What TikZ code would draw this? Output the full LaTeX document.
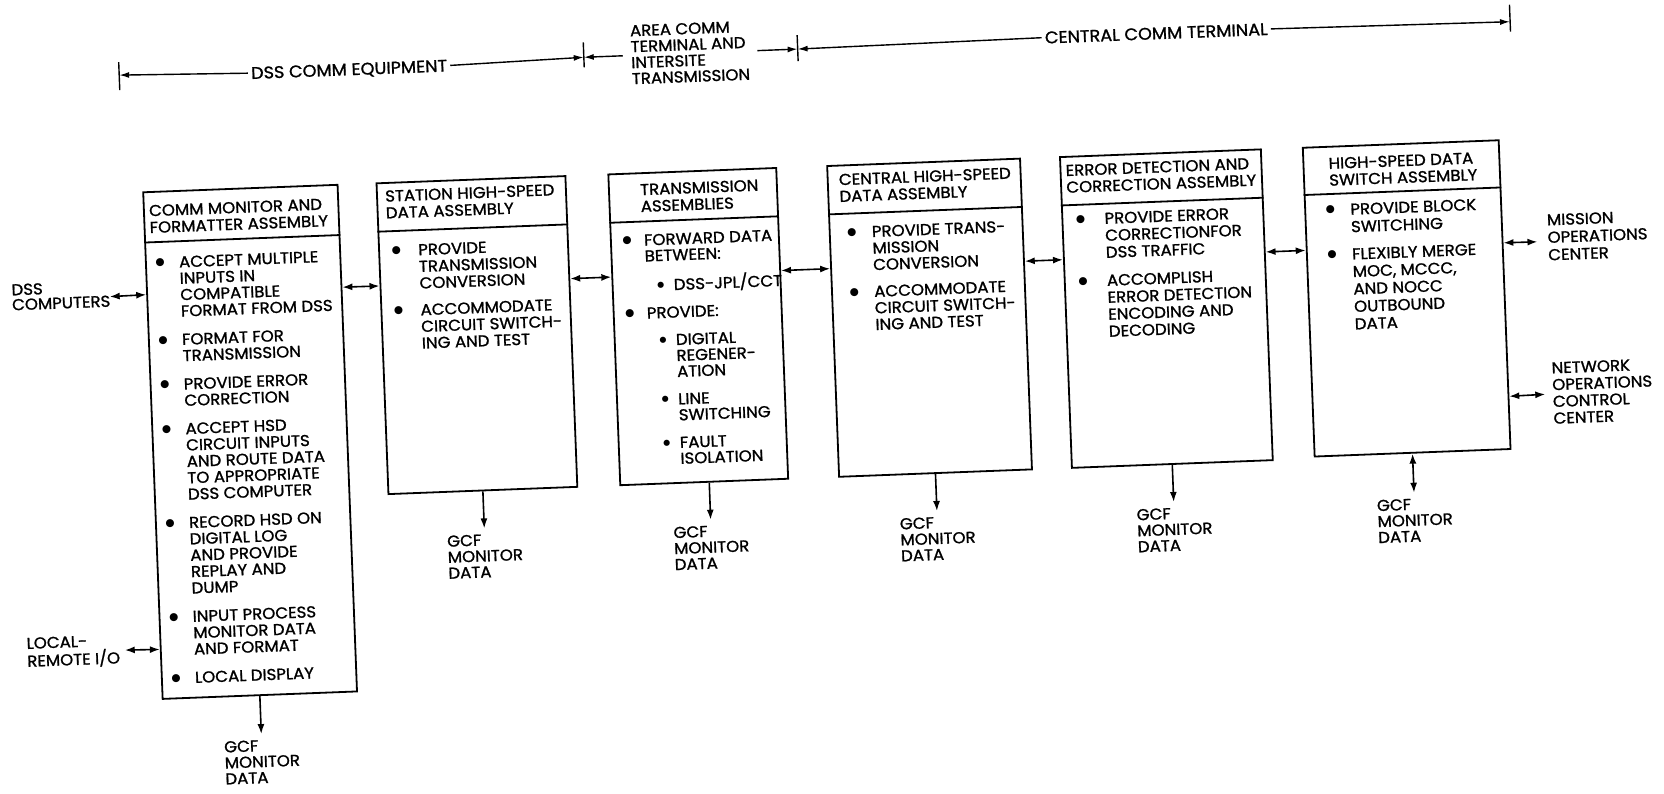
\documentclass[tikz,border=0pt]{standalone}
\usepackage{fontspec}
\setmainfont{Poppins}[RawFeature={embolden=1.2}, FakeStretch=1.05]
\newfontfamily\symf{DejaVu Sans}
\usetikzlibrary{arrows.meta,calc}

% font with a given line pitch; struts make every row exactly one pitch
\newcommand\fs[1]{\fontsize{15.8}{#1}\selectfont
  \setbox\strutbox\hbox{\vrule height .8\baselineskip depth .2\baselineskip width 0pt}}
\newcommand\bul{\raisebox{\dimexpr5.5pt-(\height-\depth)/2\relax}{\symf\fontsize{10.5}{10.5}\selectfont ●}}
\newcommand\sbul{\raisebox{\dimexpr5.5pt-(\height-\depth)/2\relax}{\symf\fontsize{8}{8}\selectfont ●}}
% multi-line left-aligned block, baseline = first line
\newcommand\blk[2]{{\fs{#1}\begin{tabular}[t]{@{}l@{}}#2\end{tabular}}}
% one bullet item: bullet centre, text indent, bullet, lines
\newcommand\itm[4]{\hbox{\makebox[#2][l]{\hspace*{#1}\makebox[0pt]{#3}}\begin{tabular}[t]{@{}l@{}}#4\end{tabular}}}
% list of items: pitch, extra gap between items, items
\newcommand\itemlist[3]{{\fs{#1}\vtop{\lineskiplimit=\maxdimen\lineskip=#2\relax #3}}}

\begin{document}
\begin{tikzpicture}[x=1pt,y=-1pt,
  box/.style={draw, line width=1.8pt, inner sep=0pt},
  sepline/.style={line width=1.8pt},
  link/.style={line width=1.6pt, {Latex[length=10pt,width=7pt]}-{Latex[length=10pt,width=7pt]}},
  outarrow/.style={line width=1.6pt, -{Latex[length=10pt,width=7pt]}},
  dimarrow/.style={line width=1.4pt, -{Latex[length=10pt,width=6pt]}},
  tickline/.style={line width=1.4pt},
  lbl/.style={inner sep=0pt, anchor=base west},
  gcf/.style={anchor=north, inner xsep=0pt, inner ysep=4pt},
  dimtxt/.style={inner xsep=3pt, inner ysep=0pt, text depth=0pt, font=\fontsize{16.8}{16}\selectfont},
  dimblock/.style={inner xsep=8pt, inner ysep=0pt, anchor=west}
]
\fill[white] (0,0) rectangle (1664,793);
\useasboundingbox (0,0) rectangle (1664,793);
\begin{scope}[rotate around={2.2:(832,396)}, transform shape]
% ---------- dimension line ----------
\coordinate (t1) at (132,48);
\coordinate (t2) at (597,48);
\coordinate (t3) at (811,48);
\coordinate (t4) at (1524,48);
\draw[tickline] (132,35) -- (132,63);
\draw[tickline] (597,33) -- (597,58);
\draw[tickline] (811,34) -- (811,60);
\draw[tickline] (1524,31) -- (1524,58);
\node[dimtxt] (d1) at (362,51) {DSS COMM EQUIPMENT};
\node[dimblock] (d2) at (636,48) {\blk{16pt}{AREA COMM\\TERMINAL AND\\INTERSITE\\TRANSMISSION}};
\node[dimtxt] (d3) at (1170,46) {CENTRAL COMM TERMINAL};
\draw[dimarrow] (d1.west) -- (t1);
\draw[dimarrow] (d1.east) -- (t2);
\draw[dimarrow] (d2.west) -- (t2);
\draw[dimarrow] (d2.east) -- (t3);
\draw[dimarrow] (d3.west) -- (t3);
\draw[dimarrow] (d3.east) -- (t4);
% ---------- boxes ----------
\node[box, minimum width=194.5pt, minimum height=507pt] (b1) at (248.75,419.5) {};
\node[box, minimum width=189pt, minimum height=311pt] (b2) at (479.5,321.5) {};
\node[box, minimum width=168pt, minimum height=311pt] (b3) at (701,321.5) {};
\node[box, minimum width=193pt, minimum height=311pt] (b4) at (932.5,321.5) {};
\node[box, minimum width=201pt, minimum height=311pt] (b5) at (1169.5,321.5) {};
\node[box, minimum width=196pt, minimum height=309pt] (b6) at (1410,320.5) {};
\draw[sepline] ($(b1.north west)!0.1006!(b1.south west)$) -- ($(b1.north east)!0.1006!(b1.south east)$);
\foreach \b in {b2,b3,b4,b5}
  \draw[sepline] ($(\b.north west)!0.1576!(\b.south west)$) -- ($(\b.north east)!0.1576!(\b.south east)$);
\draw[sepline] ($(b6.north west)!0.155!(b6.south west)$) -- ($(b6.north east)!0.155!(b6.south east)$);
% ---------- headers ----------
\node[lbl] (h1) at (156.5,190.2) {\blk{16.8pt}{COMM MONITOR AND\\FORMATTER ASSEMBLY}};
\node[lbl] (h2) at (393,184.7) {\blk{16.8pt}{STATION HIGH-SPEED\\DATA ASSEMBLY}};
\node[lbl] (h3) at (648,188) {\blk{16.8pt}{TRANSMISSION\\ASSEMBLIES}};
\node[lbl] (h4) at (847,185.6) {\blk{16.8pt}{CENTRAL HIGH-SPEED\\DATA ASSEMBLY}};
\node[lbl] (h5) at (1074,185.2) {\blk{16.8pt}{ERROR DETECTION AND\\CORRECTION ASSEMBLY}};
\node[lbl] (h6) at (1337,188.2) {\blk{16.8pt}{HIGH-SPEED DATA\\SWITCH ASSEMBLY}};
% ---------- bodies ----------
\node[lbl] (c1) at (151.5,242.5) {\itemlist{16.4pt}{11.9pt}{%
\itm{14pt}{33pt}{\bul}{ACCEPT MULTIPLE\\INPUTS IN\\COMPATIBLE\\FORMAT FROM DSS}
\itm{14pt}{33pt}{\bul}{FORMAT FOR\\TRANSMISSION}
\itm{14pt}{33pt}{\bul}{PROVIDE ERROR\\CORRECTION}
\itm{14pt}{33pt}{\bul}{ACCEPT HSD\\CIRCUIT INPUTS\\AND ROUTE DATA\\TO APPROPRIATE\\DSS COMPUTER}
\itm{14pt}{33pt}{\bul}{RECORD HSD ON\\DIGITAL LOG\\AND PROVIDE\\REPLAY AND\\DUMP}
\itm{14pt}{33pt}{\bul}{INPUT PROCESS\\MONITOR DATA\\AND FORMAT}
\itm{14pt}{33pt}{\bul}{LOCAL DISPLAY}}};
\node[lbl] (c2) at (385,239.5) {\itemlist{16.7pt}{10pt}{%
\itm{17pt}{39pt}{\bul}{PROVIDE\\TRANSMISSION\\CONVERSION}
\itm{17pt}{39pt}{\bul}{ACCOMMODATE\\CIRCUIT SWITCH-\\ING AND TEST}}};
\node[lbl] (c3) at (617,238.5) {\itemlist{16pt}{11.5pt}{%
\itm{16pt}{33pt}{\bul}{FORWARD DATA\\BETWEEN:}
\itm{48pt}{61pt}{\sbul}{DSS-JPL/CCT}
\itm{16pt}{33pt}{\bul}{PROVIDE:}
\itm{48pt}{61pt}{\sbul}{DIGITAL\\REGENER-\\ATION}
\itm{48pt}{61pt}{\sbul}{LINE\\SWITCHING}
\itm{48pt}{61pt}{\sbul}{FAULT\\ISOLATION}}};
\node[lbl] (c4) at (836,238.7) {\itemlist{16.6pt}{10.1pt}{%
\itm{22pt}{42pt}{\bul}{PROVIDE TRANS-\\MISSION\\CONVERSION}
\itm{22pt}{42pt}{\bul}{ACCOMMODATE\\CIRCUIT SWITCH-\\ING AND TEST}}};
\node[lbl] (c5) at (1069,234.5) {\itemlist{17pt}{11pt}{%
\itm{18pt}{42pt}{\bul}{PROVIDE ERROR\\CORRECTIONFOR\\DSS TRAFFIC}
\itm{18pt}{42pt}{\bul}{ACCOMPLISH\\ERROR DETECTION\\ENCODING AND\\DECODING}}};
\node[lbl] (c6) at (1312,234.8) {\itemlist{17.5pt}{9.8pt}{%
\itm{25pt}{45pt}{\bul}{PROVIDE BLOCK\\SWITCHING}
\itm{25pt}{45pt}{\bul}{FLEXIBLY MERGE\\MOC, MCCC,\\AND NOCC\\OUTBOUND\\DATA}}};
% ---------- links between boxes ----------
\draw[link] ($(b1.north east)!0.2032!(b1.south east)$) -- ($(b2.north west)!0.3312!(b2.south west)$);
\draw[link] ($(b2.north east)!0.3312!(b2.south east)$) -- ($(b3.north west)!0.3312!(b3.south west)$);
\draw[link] ($(b3.north east)!0.3312!(b3.south east)$) -- ($(b4.north west)!0.3312!(b4.south west)$);
\draw[link] ($(b4.north east)!0.3312!(b4.south east)$) -- ($(b5.north west)!0.3312!(b5.south west)$);
\draw[link] ($(b5.north east)!0.3312!(b5.south east)$) -- ($(b6.north west)!0.3333!(b6.south west)$);
% ---------- external ends ----------
\node[lbl] (dss) at (16,264) {\blk{15pt}{DSS\\COMPUTERS}};
\coordinate (dssend) at (114,269);
\draw[link] (dssend) -- ($(b1.north west)!0.2032!(b1.south west)$);
\node[lbl] (lr) at (17.5,617.9) {\blk{15pt}{LOCAL-\\REMOTE I/O}};
\coordinate (lrend) at (115.5,622.8);
\draw[link] (lrend) -- ($(b1.north west)!0.901!(b1.south west)$);
\node[lbl] (moc) at (1553,253) {\blk{17.5pt}{MISSION\\OPERATIONS\\CENTER}};
\coordinate (mocend) at (1543,269);
\draw[link] ($(b6.north east)!0.3333!(b6.south east)$) -- (mocend);
\node[lbl] (nocc) at (1552,401.1) {\blk{16.8pt}{NETWORK\\OPERATIONS\\CONTROL\\CENTER}};
\coordinate (noccend) at (1545,421.7);
\draw[link] ($(b6.north east)!0.8275!(b6.south east)$) -- (noccend);
% ---------- GCF monitor data ----------
\node[gcf] (g1) at (248.75,712) {\blk{16pt}{GCF\\MONITOR\\DATA}};
\node[gcf] (g2) at (479.5,515) {\blk{16pt}{GCF\\MONITOR\\DATA}};
\node[gcf] (g3) at (706,515) {\blk{16pt}{GCF\\MONITOR\\DATA}};
\node[gcf] (g4) at (932.5,515) {\blk{16pt}{GCF\\MONITOR\\DATA}};
\node[gcf] (g5) at (1169.5,515) {\blk{16pt}{GCF\\MONITOR\\DATA}};
\node[gcf] (g6) at (1410,515) {\blk{16pt}{GCF\\MONITOR\\DATA}};
\draw[outarrow] (b1.south) -- (g1.north);
\draw[outarrow] (b2.south) -- (g2.north);
\draw[outarrow] ($(b3.south west)!0.53!(b3.south east)$) -- (g3.north);
\draw[outarrow] (b4.south) -- (g4.north);
\draw[outarrow] (b5.south) -- (g5.north);
\draw[link] (b6.south) -- (g6.north);
\end{scope}
\end{tikzpicture}
\end{document}
